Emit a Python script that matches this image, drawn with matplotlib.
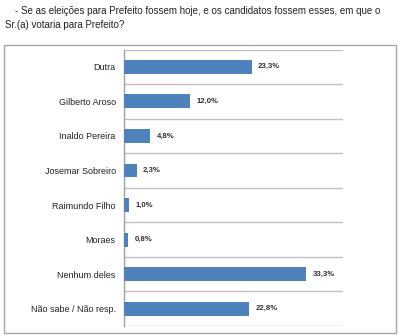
import matplotlib.pyplot as plt
import matplotlib.patches as patches
import numpy as np

categorias = ["Dutra", "Gilberto Aroso", "Inaldo Pereira", "Josemar Sobreiro",
              "Raimundo Filho", "Moraes", "Nenhum deles", "Não sabe / Não resp."]
valores = [23.3, 12.0, 4.8, 2.3, 1.0, 0.8, 33.3, 22.8]
rotulos = ["23,3%", "12,0%", "4,8%", "2,3%", "1,0%", "0,8%", "33,3%", "22,8%"]

plt.rcParams['font.family'] = ['Liberation Sans', 'DejaVu Sans']

fig = plt.figure(figsize=(4, 3.36), dpi=100)

# question text above the chart
fig.text(0.037, 0.967, "- Se as eleições para Prefeito fossem hoje, e os candidatos fossem esses, em que o",
         fontsize=7.0, va='center', ha='left', color='#222222')
fig.text(0.012, 0.926, "Sr.(a) votaria para Prefeito?",
         fontsize=7.0, va='center', ha='left', color='#222222')

# chart frame
frame = patches.Rectangle((4 / 400, 3 / 336), 392 / 400, 288 / 336, transform=fig.transFigure,
                          fill=False, edgecolor='#a6a6a6', linewidth=1.0)
fig.patches.append(frame)

ax = fig.add_axes([124 / 400, 10 / 336, 219 / 400, 276.5 / 336])
y = np.arange(len(categorias))
ax.barh(y, valores, height=0.4, color='#4f81bd', zorder=3)
ax.set_ylim(len(categorias) - 0.5, -0.5)
ax.set_xlim(0, 40)

for yi, v, r in zip(y, valores, rotulos):
    ax.text(v + 1.2, yi, r, va='center', ha='left', fontsize=5.6, fontweight='bold', color='#333333')

ax.set_yticks(y)
ax.set_yticklabels(categorias, fontsize=6.5, color='#222222')
ax.tick_params(axis='y', length=0, pad=6)
ax.set_xticks([])
ax.set_yticks(np.arange(-0.5, len(categorias)), minor=True)
ax.tick_params(axis='y', which='minor', length=0)
ax.grid(which='minor', axis='y', color='#bfbfbf', linewidth=1.0, zorder=0)

for s in ['top', 'right', 'bottom']:
    ax.spines[s].set_visible(False)
ax.spines['left'].set_color('#a0a0a0')
ax.spines['left'].set_linewidth(1.0)

fig.savefig("out.png", dpi=100)
